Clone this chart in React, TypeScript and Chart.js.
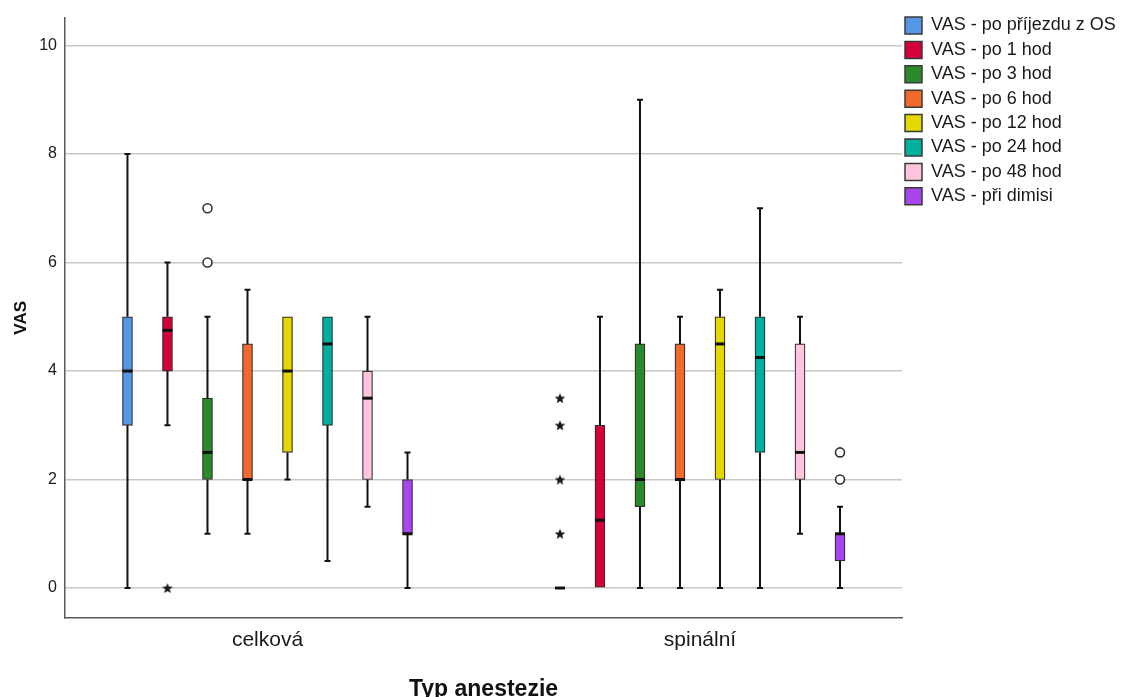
import React, { useEffect, useRef } from 'react';
import { Chart, registerables } from 'chart.js';

Chart.register(...registerables);

// ---------- data ----------
const categories = ['celková', 'spinální'];
const seriesLabels = [
  'VAS - po příjezdu z OS',
  'VAS - po 1 hod',
  'VAS - po 3 hod',
  'VAS - po 6 hod',
  'VAS - po 12 hod',
  'VAS - po 24 hod',
  'VAS - po 48 hod',
  'VAS - při dimisi',
];
// five-number summaries per series: [min, q1, median, q3, max]
const celkovaStats = [
  [0, 3, 4, 5, 8],
  [3, 4, 4.75, 5, 6],
  [1, 2, 2.5, 3.5, 5],
  [1, 2, 2, 4.5, 5.5],
  [2, 2.5, 4, 5, 5],
  [0.5, 3, 4.5, 5, 5],
  [1.5, 2, 3.5, 4, 5],
  [0, 1, 1, 2, 2.5],
];
const spinalniStats = [
  [0, 0, 0, 0, 0],
  [0, 0, 1.25, 3, 5],
  [0, 1.5, 2, 4.5, 9],
  [0, 2, 2, 4.5, 5],
  [0, 2, 4.5, 5, 5.5],
  [0, 2.5, 4.25, 5, 7],
  [1, 2, 2.5, 4.5, 5],
  [0, 0.5, 1, 1, 1.5],
];
// outliers (circles) and extremes (stars) per series
const celkovaOutliers = [[], [], [6, 7], [], [], [], [], []];
const celkovaExtremes = [[], [0], [], [], [], [], [], []];
const spinalniOutliers = [[], [], [], [], [], [], [], [2, 2.5]];
const spinalniExtremes = [[1, 2, 3, 3.5], [], [], [], [], [], [], []];
const yTicks = [0, 2, 4, 6, 8, 10];

// ---------- styles ----------
const seriesColors = ['#5596e6', '#d5003a', '#2a8a2b', '#f26a2b', '#e5d800', '#00b09e', '#ffc4e0', '#a845ef'];
const BOX_SPACING = 0.0925; // in x-axis units
const BOX_PX = 10;
const CAP_PX = 6;
const FONT = "'Liberation Sans', Arial, sans-serif";

const groupStats = [celkovaStats, spinalniStats];
const groupOutliers = [celkovaOutliers, spinalniOutliers];
const groupExtremes = [celkovaExtremes, spinalniExtremes];

const posOf = (g: number, s: number) => g + (s - (seriesLabels.length - 1) / 2) * BOX_SPACING;

function makeStar(): HTMLCanvasElement {
  const c = document.createElement('canvas');
  c.width = 12;
  c.height = 12;
  const ctx = c.getContext('2d')!;
  ctx.fillStyle = '#1a1a1a';
  ctx.beginPath();
  for (let i = 0; i < 10; i++) {
    const r = i % 2 === 0 ? 5.6 : 2.4;
    const a = -Math.PI / 2 + (i * Math.PI) / 5;
    const px = 6 + r * Math.cos(a);
    const py = 6.5 + r * Math.sin(a);
    if (i === 0) ctx.moveTo(px, py);
    else ctx.lineTo(px, py);
  }
  ctx.closePath();
  ctx.fill();
  return c;
}

const whiskerPlugin = {
  id: 'boxWhiskers',
  afterDatasetsDraw(chart: any) {
    const { ctx } = chart;
    const xs = chart.scales.x;
    const ys = chart.scales.y;
    ctx.save();
    ctx.strokeStyle = '#111';
    groupStats.forEach((stats, g) => {
      stats.forEach((st, s) => {
        const [mn, q1, med, q3, mx] = st;
        const px = xs.getPixelForValue(posOf(g, s));
        ctx.lineWidth = 2;
        ctx.beginPath();
        if (mx > q3) {
          ctx.moveTo(px, ys.getPixelForValue(q3));
          ctx.lineTo(px, ys.getPixelForValue(mx));
          ctx.moveTo(px - CAP_PX / 2, ys.getPixelForValue(mx));
          ctx.lineTo(px + CAP_PX / 2, ys.getPixelForValue(mx));
        }
        if (mn < q1) {
          ctx.moveTo(px, ys.getPixelForValue(q1));
          ctx.lineTo(px, ys.getPixelForValue(mn));
          ctx.moveTo(px - CAP_PX / 2, ys.getPixelForValue(mn));
          ctx.lineTo(px + CAP_PX / 2, ys.getPixelForValue(mn));
        }
        ctx.stroke();
        ctx.lineWidth = 3;
        ctx.beginPath();
        ctx.moveTo(px - BOX_PX / 2, ys.getPixelForValue(med));
        ctx.lineTo(px + BOX_PX / 2, ys.getPixelForValue(med));
        ctx.stroke();
      });
    });
    ctx.restore();
  },
};

const legendPlacePlugin = {
  id: 'legendPlace',
  afterLayout(chart: any) {
    const lg = chart.legend;
    if (lg) {
      const w = lg.width;
      lg.left = 898.6;
      lg.right = lg.left + w;
      lg.top = 10.1;
    }
  },
};

export default function App() {
  const canvasRef = useRef<HTMLCanvasElement | null>(null);

  useEffect(() => {
    document.body.style.margin = '0';
    if (!canvasRef.current) return;
    Chart.defaults.font.family = FONT;
    const star = makeStar();

    const boxDatasets = seriesLabels.map((label, s) => ({
      type: 'bar' as const,
      label,
      data: groupStats.map((stats, g) => ({ x: posOf(g, s), y: [stats[s][1], stats[s][3]] })),
      backgroundColor: seriesColors[s],
      borderColor: '#2e2e2e',
      borderWidth: 1.2,
      borderSkipped: false,
      barThickness: BOX_PX,
      grouped: false,
      order: 2,
    }));

    const outlierData: { x: number; y: number }[] = [];
    const extremeData: { x: number; y: number }[] = [];
    groupOutliers.forEach((arr, g) =>
      arr.forEach((vals, s) => vals.forEach((v) => outlierData.push({ x: posOf(g, s), y: v })))
    );
    groupExtremes.forEach((arr, g) =>
      arr.forEach((vals, s) => vals.forEach((v) => extremeData.push({ x: posOf(g, s), y: v })))
    );

    const chart = new Chart(canvasRef.current, {
      type: 'bar',
      data: {
        datasets: [
          ...boxDatasets,
          {
            type: 'scatter' as const,
            label: 'outliers',
            data: outlierData,
            pointStyle: 'circle',
            radius: 4.5,
            borderColor: '#333',
            backgroundColor: '#fff',
            borderWidth: 1.6,
            order: 1,
          },
          {
            type: 'scatter' as const,
            label: 'extremes',
            data: extremeData,
            pointStyle: star,
            radius: 6,
            order: 1,
          },
        ] as any,
      },
      options: {
        animation: false,
        responsive: false,
        maintainAspectRatio: false,
        events: [],
        layout: { padding: { top: 11, left: 0, right: 0, bottom: 0 } },
        plugins: {
          tooltip: { enabled: false },
          legend: {
            position: 'right',
            align: 'start',
            maxWidth: 220,
            labels: {
              boxWidth: 17,
              boxHeight: 17,
              padding: 6.4,
              color: '#1a1a1a',
              font: { size: 18, family: FONT },
              generateLabels: (ch: any) =>
                Chart.defaults.plugins.legend.labels
                  .generateLabels(ch)
                  .filter((it: any) => it.datasetIndex < seriesLabels.length)
                  .map((it: any) => ({ ...it, lineWidth: 1.5, strokeStyle: '#3a3a3a' })),
            },
          },
        },
        scales: {
          x: {
            type: 'linear',
            min: -0.4682,
            max: 1.4671,
            offset: false,
            afterBuildTicks: (sc: any) => {
              sc.ticks = categories.map((_, i) => ({ value: i }));
            },
            afterFit: (sc: any) => {
              sc.height = 79;
            },
            ticks: {
              callback: (v: any) => categories[v] ?? '',
              font: { size: 21, family: FONT },
              color: '#1a1a1a',
              padding: 10,
              maxRotation: 0,
              autoSkip: false,
            },
            grid: { display: false, drawTicks: false },
            border: { display: true, color: '#5a5a5a', width: 1.5 },
            title: {
              display: true,
              text: 'Typ anestezie',
              color: '#111',
              font: { size: 23, weight: 'bold', lineHeight: 1, family: FONT },
              padding: { top: 0, bottom: -4 },
            },
          },
          y: {
            type: 'linear',
            min: -0.5525,
            max: 10.516,
            afterBuildTicks: (sc: any) => {
              sc.ticks = yTicks.map((v) => ({ value: v }));
            },
            afterFit: (sc: any) => {
              sc.width = 65;
            },
            ticks: {
              font: { size: 16, family: FONT },
              color: '#1a1a1a',
              padding: 8,
            },
            grid: { color: '#c8c8c8', lineWidth: 1.5, drawTicks: false },
            border: { display: true, color: '#5a5a5a', width: 1.5 },
            title: {
              display: true,
              text: 'VAS',
              color: '#111',
              font: { size: 17, weight: 'bold', lineHeight: 1.2, family: FONT },
              padding: { top: 11, bottom: 0 },
            },
          },
        },
      } as any,
      plugins: [whiskerPlugin, legendPlacePlugin],
    });

    return () => chart.destroy();
  }, []);

  return (
    <div style={{ position: 'absolute', left: 0, top: 0, width: 1122, height: 697 }}>
      <canvas ref={canvasRef} width={1122} height={697} style={{ display: 'block' }} />
    </div>
  );
}
